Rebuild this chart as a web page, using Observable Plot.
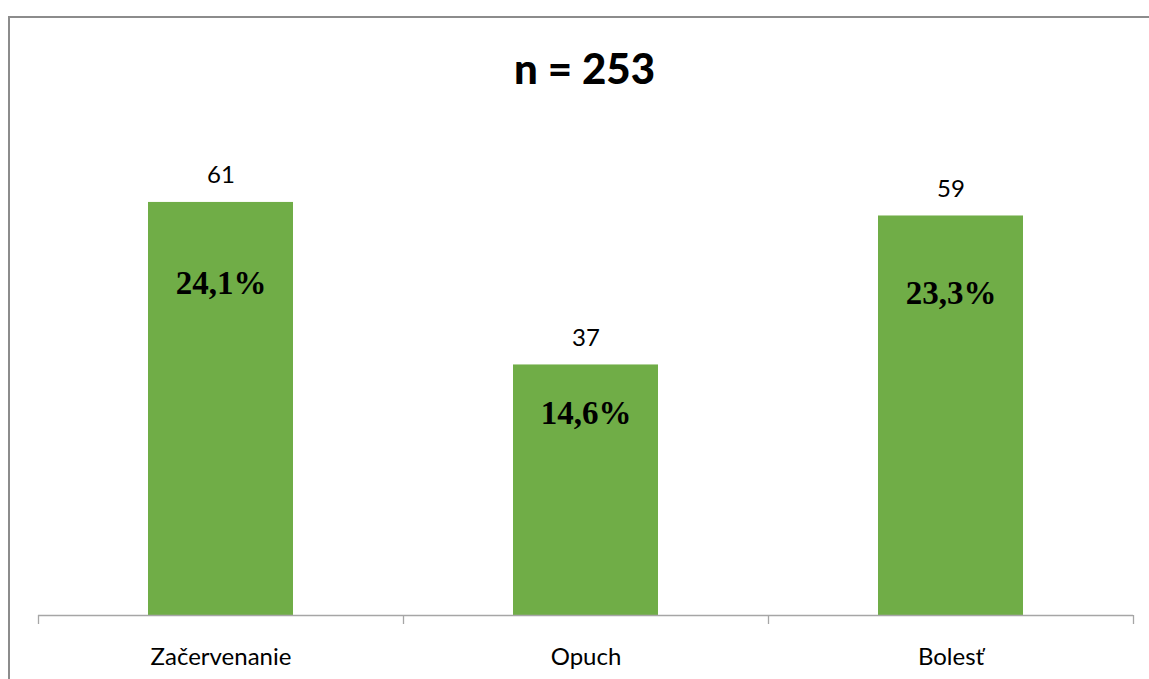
<!DOCTYPE html>
<html>
<head>
<meta charset="utf-8">
<script src="https://cdn.jsdelivr.net/npm/d3@7"></script>
<script src="https://cdn.jsdelivr.net/npm/@observablehq/plot@0.6"></script>
<style>
  html, body { margin: 0; padding: 0; background: #fff; overflow: hidden; }
  #frame {
    position: absolute; left: 8px; top: 16px;
    width: 1400px; height: 900px;
    border: 2px solid #8c8c8c; box-sizing: border-box;
  }
  #title {
    position: absolute; left: 0; top: 43px; width: 1169px;
    text-align: center; font: 900 42px Lato, "Open Sans", sans-serif; color: #000;
  }
  #chart { position: absolute; left: 0; top: 120px; }
  #chart svg { overflow: visible; }
</style>
</head>
<body>
<div id="frame"></div>
<div id="title">n = 253</div>
<div id="chart"></div>
<script>
// Reported local reactions after vaccination, out of all respondents
const total = 253;
const categories = ["Začervenanie", "Opuch", "Bolesť"];
const counts = [61, 37, 59];

const rows = categories.map((c, i) => ({ category: c, count: counts[i] }));
const pct = d => (d.count / total * 100).toFixed(1).replace(".", ",") + "%";

const W = 1149, H = 559;
const marginLeft = 38, marginRight = 16;
const step = (W - marginLeft - marginRight) / categories.length;
const axisColor = "#a6a6a6";
const sans = "Lato, 'Open Sans', sans-serif";

const chart = Plot.plot({
  width: W,
  height: H,
  marginLeft, marginRight,
  marginTop: 21,
  marginBottom: 64,
  x: { domain: categories, paddingInner: 0.603, paddingOuter: 0.3015, axis: null },
  y: { domain: [0, 70], axis: null },
  marks: [
    Plot.barY(rows, { x: "category", y: "count", fill: "#70ad47" }),
    // baseline and category-boundary ticks
    Plot.ruleY([0], { stroke: axisColor, strokeWidth: 1.3 }),
    Plot.ruleX(categories, { x: d => d, dx: -step / 2, y1: 0, y2: 0, insetBottom: -9, stroke: axisColor, strokeWidth: 1.3 }),
    Plot.ruleX(categories.slice(-1), { x: d => d, dx: step / 2, y1: 0, y2: 0, insetBottom: -9, stroke: axisColor, strokeWidth: 1.3 }),
    // category labels
    Plot.text(categories, { x: d => d, y: 0, dy: 42, text: d => d, fontSize: 24, fontFamily: sans, fill: "#000" }),
    // counts above bars
    Plot.text(rows, { x: "category", y: "count", dy: -27, text: d => String(d.count), fontSize: 24, fontFamily: sans, fill: "#000" }),
    // share of respondents inside bars
    Plot.text(rows, { x: "category", y: d => d.count * 0.805, text: pct, fontSize: 33, fontWeight: "bold", fontFamily: "'Liberation Serif', 'Times New Roman', serif", fill: "#000" })
  ]
});
document.getElementById("chart").appendChild(chart);
</script>
</body>
</html>
